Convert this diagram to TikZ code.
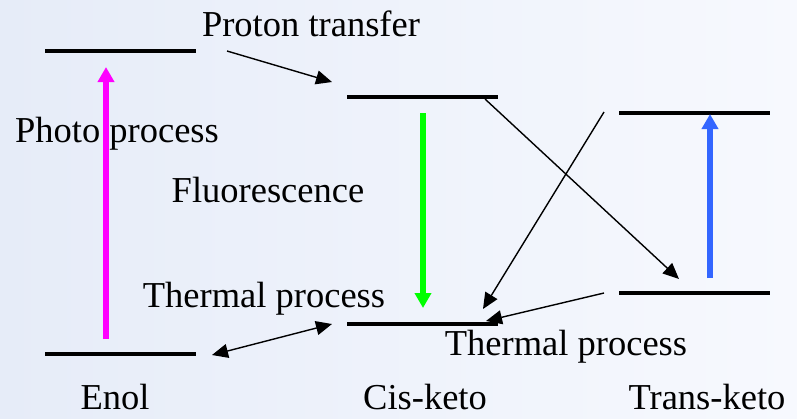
\documentclass[tikz,border=0pt]{standalone}
\usepackage{fontspec}
\setmainfont{Liberation Serif}
\usetikzlibrary{arrows.meta}
\definecolor{bgL}{HTML}{E6ECF8}
\definecolor{bgR}{HTML}{F7F9FE}
\definecolor{mag}{HTML}{FF00FF}
\definecolor{grn}{HTML}{00FF00}
\definecolor{blu}{HTML}{3366FF}
\tikzset{
  level/.style={line width=4.5bp, black},
  thin/.style={line width=1.4bp, black, -{Triangle[length=16bp,width=14bp]}},
  thinboth/.style={line width=1.4bp, black, {Triangle[length=16bp,width=14bp]}-{Triangle[length=16bp,width=14bp]}},
  trans/.style={line width=5.5bp, -{Triangle[length=15bp,width=16bp]}},
  lbl/.style={font=\fontsize{36.5bp}{44bp}\selectfont, inner sep=0pt, anchor=base}
}
\begin{document}
\begin{tikzpicture}[x=1bp,y=-1bp]
\shade[left color=bgL, right color=bgR] (0,0) rectangle (797,418);
\useasboundingbox (0,0) rectangle (797,418);
% level end points
\coordinate (e1a) at (45,51);   \coordinate (e1b) at (196,51);
\coordinate (e0a) at (45,354);  \coordinate (e0b) at (196,354);
\coordinate (c1a) at (347,97);  \coordinate (c1b) at (498,97);
\coordinate (c0a) at (347,324); \coordinate (c0b) at (498,324);
\coordinate (t1a) at (619,113); \coordinate (t1b) at (770,113);
\coordinate (t0a) at (619,293); \coordinate (t0b) at (770,293);
\draw[level] (e1a) -- (e1b);
\draw[level] (e0a) -- (e0b);
\draw[level] (c1a) -- (c1b);
\draw[level] (c0a) -- (c0b);
\draw[level] (t1a) -- (t1b);
\draw[level] (t0a) -- (t0b);
% vertical transitions
\coordinate (m0) at (106,339); \coordinate (m1) at (106,67);
\draw[trans, mag] (m0) -- (m1);
\coordinate (g0) at (423,113); \coordinate (g1) at (423,308);
\draw[trans, grn] (g0) -- (g1);
\coordinate (b0) at (710,278); \coordinate (b1) at (710,114);
\draw[trans, blu] (b0) -- (b1);
% thin arrows
\coordinate (p0) at (227,51); \coordinate (p1) at (332,82);
\draw[thin] (p0) -- (p1);
\coordinate (x0) at (485,99); \coordinate (x1) at (679,279);
\draw[thin] (x0) -- (x1);
\coordinate (y0) at (604,112); \coordinate (y1) at (483,309);
\draw[thin] (y0) -- (y1);
\coordinate (z0) at (604,293); \coordinate (z1) at (486,321);
\draw[thin] (z0) -- (z1);
\coordinate (d0) at (212,355); \coordinate (d1) at (332,324);
\draw[thinboth] (d0) -- (d1);
% labels
\node[lbl] (lpt) at (311,36) {Proton transfer};
\node[lbl] (lpp) at (117,142) {Photo process};
\node[lbl] (lfl) at (268,202) {Fluorescence};
\node[lbl] (lth1) at (264,307) {Thermal process};
\node[lbl] (lth2) at (566,355) {Thermal process};
\node[lbl] (len) at (115,409) {Enol};
\node[lbl] (lck) at (425,409) {Cis-keto};
\node[lbl] (ltk) at (707,409) {Trans-keto};
\end{tikzpicture}
\end{document}
